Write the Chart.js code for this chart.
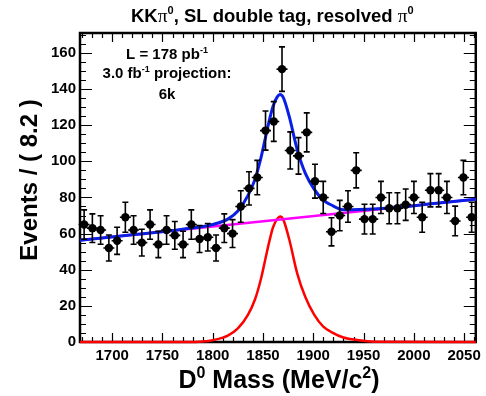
<!DOCTYPE html>
<html>
<head>
<meta charset="utf-8">
<script src="https://cdn.jsdelivr.net/npm/chart.js@4.4.1/dist/chart.umd.min.js"></script>
<style>
  html, body { margin: 0; padding: 0; background: #fff; }
  #wrap { width: 486px; height: 396px; }
</style>
</head>
<body>
<div id="wrap"><canvas id="chart"></canvas></div>
<script>
// binning of the data histogram (MeV)
const binLow = 1668;
const binWidth = 8.2;

// events per bin
const counts = [65, 63, 62, 52, 56, 69, 62, 55, 65, 54, 62, 59, 54, 65, 57, 58,
                52, 63, 60, 75, 85, 91, 117, 122, 151, 106, 103, 116, 89, 80, 61, 70,
                75, 95, 68, 68, 80, 74, 74, 76, 80, 69, 84, 84, 80, 67, 91, 69];
const errs = [8.1, 7.9, 7.9, 7.2, 7.5, 8.3, 7.9, 7.4, 8.1, 7.3, 7.9, 7.7, 7.3, 8.1, 7.5, 7.6,
              7.2, 7.9, 7.7, 8.7, 9.2, 9.5, 10.8, 11.0, 12.3, 10.3, 10.1, 10.8, 9.4, 8.9, 7.8, 8.4,
              8.7, 9.7, 8.2, 8.2, 8.9, 8.6, 8.6, 8.7, 8.9, 8.3, 9.2, 9.2, 8.9, 8.2, 9.5, 8.3];

// background (magenta)
const bgMass = [1668, 2061.6];
const bgVals = [56.3, 79];

// total fit (blue)
const totMass = [1668, 1720, 1770, 1800, 1815, 1825, 1835, 1842, 1848, 1852, 1856, 1860, 1864,
                 1867, 1870, 1876, 1884, 1892, 1901, 1910, 1918, 1930, 1945, 1980, 2020, 2061.6];
const totVals = [56.3, 59.3, 62.4, 65, 68, 72.5, 81, 90, 102, 112, 122, 130.5, 135.5,
                 137, 135.5, 125, 106.5, 93.5, 84.5, 78.5, 75.8, 73.2, 73.3, 74.3, 76.6, 79];

// signal (red)
const sigMass = [1668, 1775, 1790, 1800, 1815, 1825, 1835, 1842, 1848, 1852, 1856, 1860, 1864,
                 1867, 1870, 1876, 1884, 1892, 1901, 1910, 1918, 1930, 1945, 1960, 2061.6];
const sigVals = [0, 0, 0.3, 1, 3.5, 7.5, 15, 23.5, 35, 45, 55, 63.5, 68,
                 69.5, 68, 57, 38, 25, 15, 8.5, 5.5, 2.5, 1, 0.2, 0];

const xTicks = [1700, 1750, 1800, 1850, 1900, 1950, 2000, 2050];
const yTicks = [0, 20, 40, 60, 80, 100, 120, 140, 160];

const SANS = '"Liberation Sans", Arial, Helvetica, sans-serif';
const SERIF = '"Liberation Serif", "Times New Roman", serif';

const pts = counts.map((c, i) => ({ x: binLow + binWidth * (i + 0.5), y: c }));
const pair = (xs, ys) => xs.map((m, i) => ({ x: m, y: ys[i] }));

// text with superscripts / symbol font: parts = [[text, kind], ...]
function drawRich(ctx, parts, x, y, size, align) {
  const fontOf = k => k === 'sup' ? `bold ${Math.round(size * 0.62)}px ${SANS}`
                    : k === 'sym' ? `${size + 1}px ${SERIF}`
                    : `bold ${size}px ${SANS}`;
  let total = 0;
  const ws = parts.map(p => { ctx.font = fontOf(p[1]); const w = ctx.measureText(p[0]).width; total += w; return w; });
  let cx = align === 'center' ? x - total / 2 : x;
  ctx.textAlign = 'left';
  ctx.textBaseline = 'alphabetic';
  parts.forEach((p, i) => {
    ctx.font = fontOf(p[1]);
    ctx.fillText(p[0], cx, p[1] === 'sup' ? y - size * 0.42 : y);
    cx += ws[i];
  });
}

const frame = {
  id: 'frame',
  beforeDatasetsDraw(chart) {
    const { ctx, chartArea: a, scales: { x, y } } = chart;
    ctx.save();
    ctx.strokeStyle = '#000';
    ctx.lineWidth = 1.2;
    ctx.beginPath();
    for (let v = 1670; v <= 2060; v += 10) {
      const px = Math.round(x.getPixelForValue(v)) + 0.5;
      const len = v % 50 === 0 ? 9 : 5;
      ctx.moveTo(px, a.bottom); ctx.lineTo(px, a.bottom - len);
      ctx.moveTo(px, a.top); ctx.lineTo(px, a.top + len);
    }
    for (let v = 0; v <= 170; v += 5) {
      const py = Math.round(y.getPixelForValue(v)) + 0.5;
      const len = v % 20 === 0 ? 12 : 6;
      ctx.moveTo(a.left, py); ctx.lineTo(a.left + len, py);
      ctx.moveTo(a.right, py); ctx.lineTo(a.right - len, py);
    }
    ctx.stroke();
    ctx.lineWidth = 2.5;
    ctx.strokeRect(a.left, a.top, a.right - a.left, a.bottom - a.top);
    ctx.restore();
  },
  beforeDatasetDraw(chart, args) {
    if (args.index !== 0) return;
    const { ctx, scales: { x, y } } = chart;
    ctx.save();
    ctx.strokeStyle = '#000';
    ctx.lineWidth = 1.6;
    ctx.beginPath();
    pts.forEach((p, i) => {
      const px = x.getPixelForValue(p.x);
      const y1 = y.getPixelForValue(p.y + errs[i]);
      const y0 = y.getPixelForValue(p.y - errs[i]);
      const yc = y.getPixelForValue(p.y);
      ctx.moveTo(px, y0); ctx.lineTo(px, y1);
      ctx.moveTo(px - 3, y1); ctx.lineTo(px + 3, y1);
      ctx.moveTo(px - 3, y0); ctx.lineTo(px + 3, y0);
      ctx.moveTo(px - 5.5, yc); ctx.lineTo(px + 5.5, yc);
    });
    ctx.stroke();
    ctx.restore();
  },
  afterDraw(chart) {
    const { ctx } = chart;
    ctx.save();
    ctx.fillStyle = '#000';
    drawRich(ctx, [['KK', ''], ['\u03c0', 'sym'], ['0', 'sup'], [', SL double tag, resolved ', ''], ['\u03c0', 'sym'], ['0', 'sup']], 131, 22, 18.5, 'left');
    drawRich(ctx, [['L = 178 pb', ''], ['-1', 'sup']], 167, 59, 15, 'center');
    drawRich(ctx, [['3.0 fb', ''], ['-1', 'sup'], [' projection:', '']], 167, 78, 15, 'center');
    drawRich(ctx, [['6k', '']], 167, 99, 15, 'center');
    drawRich(ctx, [['D', ''], ['0', 'sup'], [' Mass (MeV/c', ''], ['2', 'sup'], [')', '']], 279, 388, 25, 'center');
    ctx.translate(37, 180);
    ctx.rotate(-Math.PI / 2);
    drawRich(ctx, [['Events / ( 8.2 )', '']], 0, 0, 24, 'center');
    ctx.restore();
  }
};

const curve = (data, color, width, order) => ({
  type: 'line', data, borderColor: color, borderWidth: width, pointRadius: 0,
  fill: false, cubicInterpolationMode: 'monotone', clip: false, order
});

new Chart(document.getElementById('chart'), {
  type: 'scatter',
  data: {
    datasets: [
      { data: pts, backgroundColor: '#000', borderWidth: 0, pointRadius: 4.2, pointHoverRadius: 4.2, order: 0 },
      curve(pair(totMass, totVals), '#0a1fe6', 3, 1),
      curve(pair(bgMass, bgVals), '#ff00ff', 2.5, 2),
      curve(pair(sigMass, sigVals), '#ff0000', 2.5, 3)
    ]
  },
  options: {
    responsive: true,
    maintainAspectRatio: false,
    animation: false,
    events: [],
    layout: { padding: { top: 33, right: 7, left: 0, bottom: 0 } },
    plugins: { legend: { display: false }, tooltip: { enabled: false } },
    scales: {
      x: {
        type: 'linear', min: binLow, max: 2061.6,
        grid: { display: false, drawTicks: false },
        border: { display: false },
        afterBuildTicks: s => { s.ticks = xTicks.map(v => ({ value: v })); },
        afterFit: s => { s.height = 54; },
        ticks: { color: '#000', padding: 5, maxRotation: 0, callback: v => String(v),
                 font: { family: SANS, size: 15, weight: 'bold' } }
      },
      y: {
        min: 0, max: 171,
        grid: { display: false, drawTicks: false },
        border: { display: false },
        afterBuildTicks: s => { s.ticks = yTicks.map(v => ({ value: v })); },
        afterFit: s => { s.width = 80; },
        ticks: { color: '#000', padding: 4, callback: v => String(v),
                 font: { family: SANS, size: 15, weight: 'bold' } }
      }
    }
  },
  plugins: [frame]
});
</script>
</body>
</html>
